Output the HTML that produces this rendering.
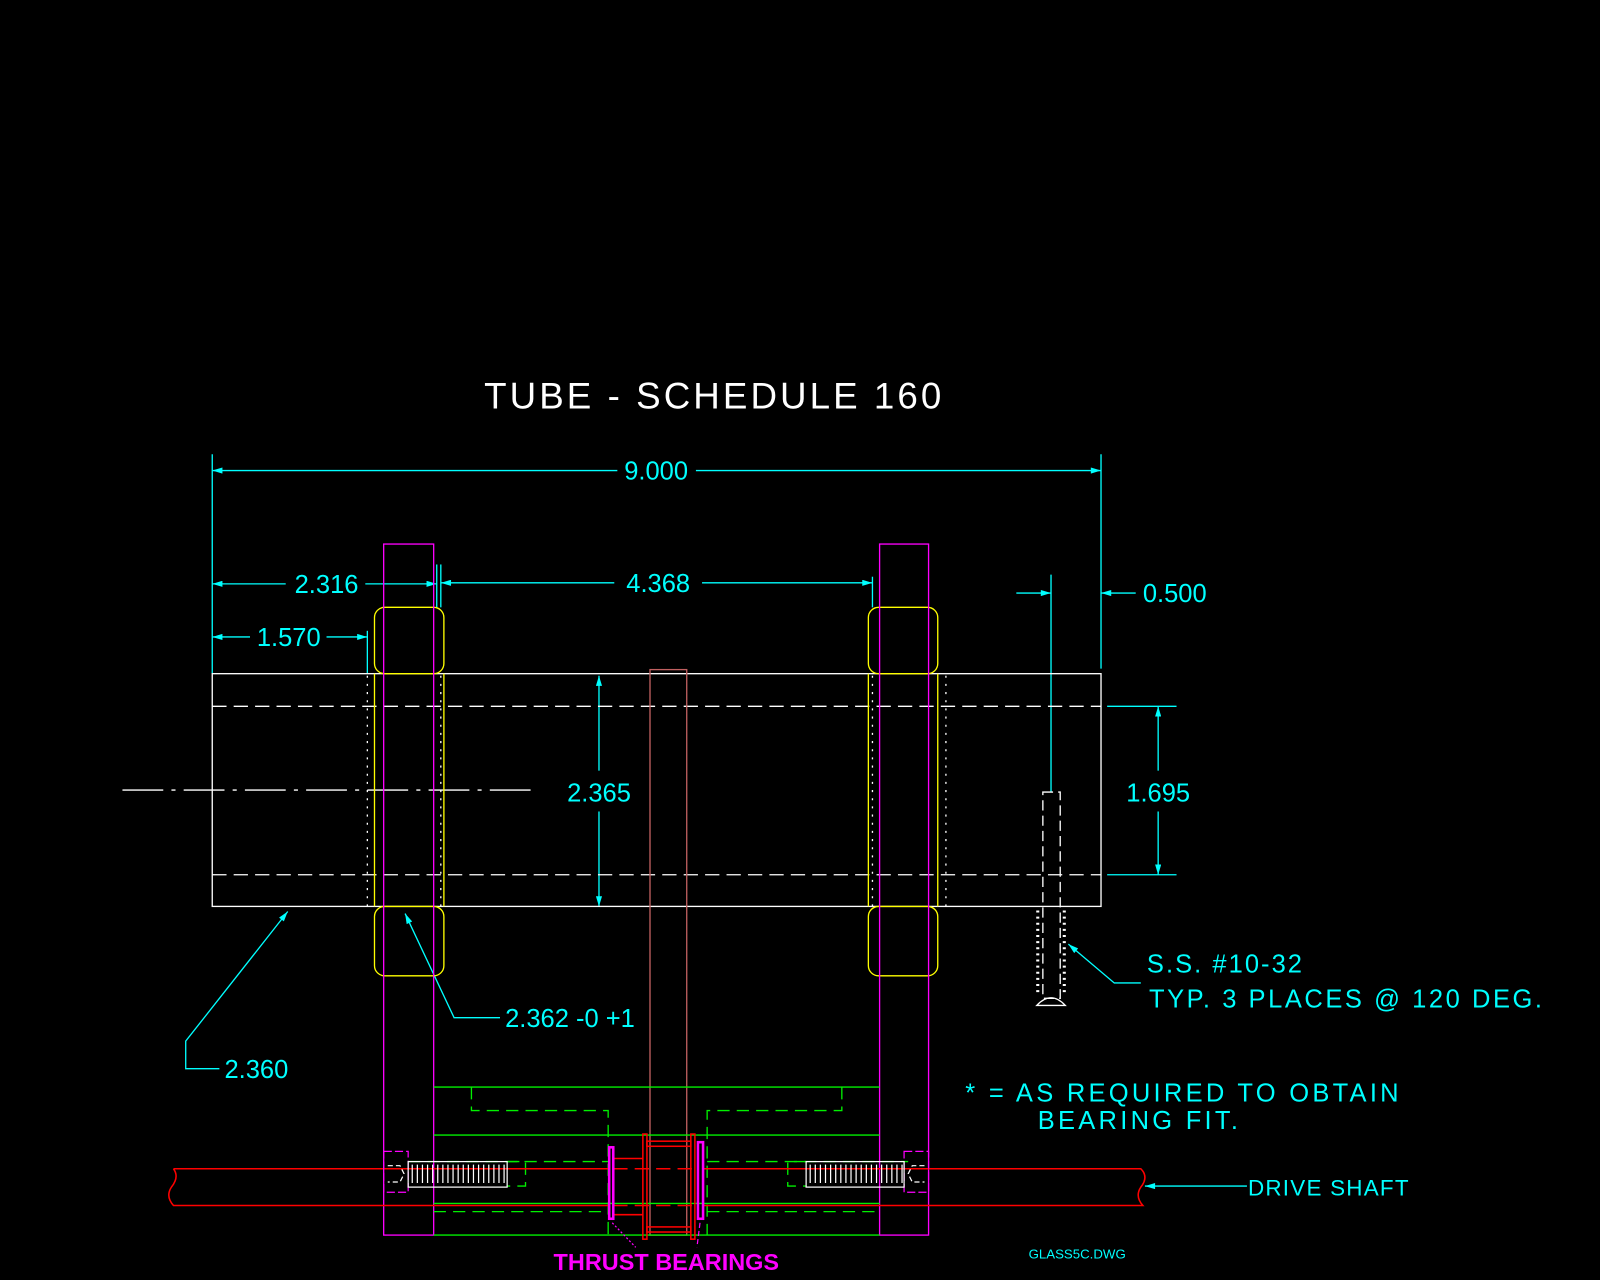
<!DOCTYPE html>
<html><head><meta charset="utf-8"><style>
html,body{margin:0;padding:0;background:#000;}
svg{display:block;}
text{font-family:"Liberation Sans",sans-serif;}
.c{fill:#00ffff;font-size:25px;}
</style></head><body>
<svg width="1600" height="1280" viewBox="0 0 1568 1254" preserveAspectRatio="none" xmlns="http://www.w3.org/2000/svg">
<rect width="1568" height="1254" fill="#000"/>
<defs>
<marker id="a" viewBox="0 0 10 6" refX="10" refY="3" markerWidth="16" markerHeight="6" markerUnits="userSpaceOnUse" orient="auto-start-reverse"><path d="M0,0L10,3L0,6z" fill="#00ffff"/></marker>
</defs>
<text x="700" y="400" text-anchor="middle" fill="#fff" font-size="36" letter-spacing="3" style="font-weight:300">TUBE - SCHEDULE 160</text>

<g stroke="#00ffff" stroke-width="1.3" fill="none">
<line x1="208" y1="445" x2="208" y2="660"/><line x1="1079" y1="445" x2="1079" y2="655"/>
<line x1="208" y1="461" x2="605" y2="461" marker-start="url(#a)"/><line x1="682" y1="461" x2="1079" y2="461" marker-end="url(#a)"/>
<line x1="428" y1="553" x2="428" y2="595"/><line x1="432" y1="553" x2="432" y2="595"/>
<line x1="208" y1="572" x2="280" y2="572" marker-start="url(#a)"/><line x1="358" y1="572" x2="428" y2="572" marker-end="url(#a)"/>
<line x1="432" y1="571" x2="602" y2="571" marker-start="url(#a)"/><line x1="688" y1="571" x2="855" y2="571" marker-end="url(#a)"/>
<line x1="855" y1="565" x2="855" y2="595"/>
<line x1="360" y1="618" x2="360" y2="660"/>
<line x1="208" y1="624" x2="245" y2="624" marker-start="url(#a)"/><line x1="320" y1="624" x2="360" y2="624" marker-end="url(#a)"/>
<line x1="996" y1="581" x2="1030" y2="581" marker-end="url(#a)"/><line x1="1113" y1="581" x2="1079" y2="581" marker-end="url(#a)"/>
<line x1="1030" y1="563" x2="1030" y2="776"/>
<line x1="587" y1="662" x2="587" y2="755" marker-start="url(#a)"/><line x1="587" y1="795" x2="587" y2="888" marker-end="url(#a)"/>
<line x1="1085" y1="692" x2="1153" y2="692"/><line x1="1085" y1="857" x2="1153" y2="857"/>
<line x1="1135" y1="692" x2="1135" y2="755" marker-start="url(#a)"/><line x1="1135" y1="795" x2="1135" y2="857" marker-end="url(#a)"/>
<polyline points="282,893 182,1020 182,1047 215,1047" marker-start="url(#a)"/>
<polyline points="397,895 445,997 490,997" marker-start="url(#a)"/>
<polyline points="1047,925 1092,963 1118,963" marker-start="url(#a)"/>
<line x1="1122" y1="1162" x2="1222" y2="1162" marker-start="url(#a)"/>
</g>
<g class="c">
<text x="643" y="470" text-anchor="middle">9.000</text>
<text x="320" y="581" text-anchor="middle">2.316</text>
<text x="645" y="580" text-anchor="middle">4.368</text>
<text x="283" y="633" text-anchor="middle">1.570</text>
<text x="1120" y="590">0.500</text>
<text x="587" y="785" text-anchor="middle">2.365</text>
<text x="1135" y="785" text-anchor="middle">1.695</text>
<text x="220" y="1056">2.360</text>
<text x="495" y="1006">2.362 -0 +1</text>
<text x="1124" y="953" letter-spacing="2">S.S. #10-32</text>
<text x="1126" y="987" letter-spacing="2.5">TYP. 3 PLACES @ 120 DEG.</text>
<text x="946" y="1079" letter-spacing="3.2">* = AS REQUIRED TO OBTAIN</text>
<text x="1017" y="1106" letter-spacing="3.2">BEARING FIT.</text>
<text x="1223" y="1171" font-size="22" letter-spacing="1.2">DRIVE SHAFT</text>
<text x="1008" y="1233" font-size="13">GLASS5C.DWG</text>
</g>

<g stroke="#fff" stroke-width="1.3" fill="none">
<rect x="208" y="660" width="871" height="228"/>
<line x1="208" y1="692" x2="1079" y2="692" stroke-dasharray="14,7"/>
<line x1="208" y1="857" x2="1079" y2="857" stroke-dasharray="14,7"/>
<line x1="120" y1="774" x2="520" y2="774" stroke-dasharray="40,8,4,8"/>
<g stroke-dasharray="2,6"><line x1="360" y1="662" x2="360" y2="888"/><line x1="432" y1="662" x2="432" y2="888"/><line x1="855" y1="662" x2="855" y2="888"/><line x1="927" y1="662" x2="927" y2="888"/></g>
<rect x="1022" y="776" width="17" height="202" stroke-dasharray="10,5"/>
<g stroke-dasharray="2,4" stroke-width="3"><line x1="1017" y1="892" x2="1017" y2="975"/><line x1="1043" y1="892" x2="1043" y2="975"/></g>
<path d="M1016,985 Q1030,970 1044,985 Z"/>
</g>
<g stroke="#ffff00" stroke-width="1.3" fill="none">
<rect x="367" y="595" width="68" height="65" rx="10"/><rect x="367" y="888" width="68" height="68" rx="10"/>
<rect x="851" y="595" width="68" height="65" rx="10"/><rect x="851" y="888" width="68" height="68" rx="10"/>
<line x1="367" y1="660" x2="367" y2="888"/><line x1="435" y1="660" x2="435" y2="888"/>
<line x1="851" y1="660" x2="851" y2="888"/><line x1="919" y1="660" x2="919" y2="888"/>
</g>
<g stroke="#ff00ff" stroke-width="1.3" fill="none">
<rect x="376" y="533" width="49" height="677"/><rect x="862" y="533" width="48" height="677"/>
</g>
<rect x="637" y="656" width="36" height="554" stroke="#c06060" stroke-width="1.3" fill="none"/>
<g stroke="#00f000" stroke-width="1.3" fill="none">
<line x1="425" y1="1065" x2="862" y2="1065"/>
<line x1="425" y1="1112" x2="862" y2="1112"/>
<line x1="425" y1="1179" x2="862" y2="1179"/>
<line x1="425" y1="1210" x2="862" y2="1210"/>
<g stroke-dasharray="12,7">
<polyline points="462,1065 462,1088 596,1088 596,1210"/>
<polyline points="825,1065 825,1088 693,1088 693,1210"/>
<line x1="400" y1="1138" x2="596" y2="1138"/><line x1="693" y1="1138" x2="890" y2="1138"/>
<line x1="425" y1="1187" x2="596" y2="1187"/><line x1="693" y1="1187" x2="862" y2="1187"/>
<polyline points="497,1138 515,1138 515,1162 497,1162"/>
<polyline points="790,1138 772,1138 772,1162 790,1162"/>
</g>
</g>
<g stroke="#ff0000" stroke-width="1.5" fill="none">
<path d="M170,1145 L596,1145 M689,1145 L1118,1145 Q1126,1153 1118,1163 Q1112,1172 1120,1181 L689,1181 M596,1181 L170,1181 Q162,1172 168,1163 Q176,1153 170,1145"/>
<line x1="601" y1="1145" x2="684" y2="1145" stroke-dasharray="14,7"/>
<line x1="601" y1="1181" x2="684" y2="1181" stroke-dasharray="14,7"/>
<rect x="630" y="1111" width="4" height="103"/><rect x="677" y="1111" width="4" height="103"/>
<rect x="634" y="1118" width="43" height="5"/><rect x="634" y="1202" width="43" height="5"/>
<line x1="601" y1="1135" x2="630" y2="1135"/><line x1="601" y1="1190" x2="630" y2="1190"/>
</g>
<g stroke="#ff00ff" stroke-width="2.5" fill="none">
<rect x="597" y="1124" width="4" height="70"/><rect x="684" y="1119" width="5" height="75"/>
</g>
<g stroke="#ff00ff" stroke-width="1.2" fill="none">
<line x1="600" y1="1198" x2="623" y2="1222" stroke-dasharray="2,2"/>
<line x1="686" y1="1198" x2="683" y2="1222" stroke-dasharray="5,3"/>
<rect x="376" y="1128" width="24" height="40" stroke-dasharray="8,3"/>
<rect x="886" y="1128" width="24" height="40" stroke-dasharray="8,3"/>
</g>
<g stroke="#fff" stroke-width="1.2" fill="none">
<rect x="400" y="1138" width="97" height="25"/><rect x="790" y="1138" width="96" height="25"/>
<path d="M404,1141v18M409,1141v18M414,1141v18M419,1141v18M424,1141v18M429,1141v18M434,1141v18M439,1141v18M444,1141v18M449,1141v18M454,1141v18M459,1141v18M464,1141v18M469,1141v18M474,1141v18M479,1141v18M484,1141v18M489,1141v18M494,1141v18"/>
<path d="M794,1141v18M799,1141v18M804,1141v18M809,1141v18M814,1141v18M819,1141v18M824,1141v18M829,1141v18M834,1141v18M839,1141v18M844,1141v18M849,1141v18M854,1141v18M859,1141v18M864,1141v18M869,1141v18M874,1141v18M879,1141v18M884,1141v18"/>
<path d="M380,1142h12l4,8l-4,8h-12" stroke-dasharray="5,3"/>
<path d="M906,1142h-12l-4,8l4,8h12" stroke-dasharray="5,3"/>
</g>
<text x="653" y="1244" text-anchor="middle" fill="#ff00ff" font-size="23" font-weight="bold">THRUST BEARINGS</text>
</svg>
</body></html>
